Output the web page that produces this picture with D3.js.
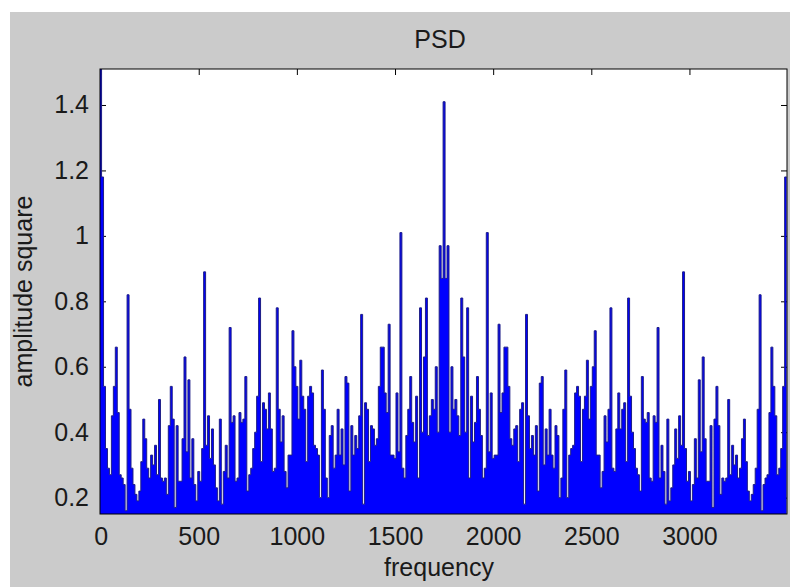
<!DOCTYPE html>
<html>
<head>
<meta charset="utf-8">
<script src="https://cdn.jsdelivr.net/npm/d3@7"></script>
<style>
  html, body { margin: 0; padding: 0; background: #fff; }
  svg { display: block; }
  text { font-family: "Liberation Sans", Arial, sans-serif; fill: #1a1a1a; }
</style>
</head>
<body>
<div id="chart"></div>
<script>
// PSD values, one bar per 10 Hz bin
var bin_Step = 10;

// bins 0 .. 1750 Hz
var psd_Left = [
  1.51, 1.18, 0.54, 0.35, 0.29, 0.27, 0.45, 0.54, 0.66, 0.46,
  0.27, 0.26, 0.24, 0.16, 0.82, 0.47, 0.29, 0.24, 0.21, 0.19,
  0.22, 0.31, 0.44, 0.38, 0.29, 0.26, 0.33, 0.30, 0.36, 0.27,
  0.50, 0.26, 0.25, 0.26, 0.21, 0.42, 0.54, 0.44, 0.17, 0.42,
  0.25, 0.25, 0.38, 0.63, 0.34, 0.56, 0.26, 0.38, 0.24, 0.19,
  0.28, 0.25, 0.35, 0.89, 0.36, 0.45, 0.32, 0.41, 0.30, 0.23,
  0.19, 0.44, 0.18, 0.28, 0.36, 0.26, 0.72, 0.43, 0.45, 0.25,
  0.26, 0.46, 0.43, 0.44, 0.57, 0.22, 0.27, 0.29, 0.35, 0.40,
  0.51, 0.81, 0.31, 0.49, 0.47, 0.41, 0.52, 0.41, 0.28, 0.29,
  0.78, 0.47, 0.37, 0.45, 0.28, 0.23, 0.33, 0.33, 0.71, 0.60,
  0.54, 0.44, 0.62, 0.51, 0.47, 0.31, 0.51, 0.54, 0.52, 0.36,
  0.35, 0.33, 0.20, 0.59, 0.47, 0.26, 0.20, 0.39, 0.42, 0.29,
  0.33, 0.47, 0.33, 0.41, 0.30, 0.57, 0.55, 0.22, 0.42, 0.33,
  0.39, 0.35, 0.45, 0.76, 0.18, 0.49, 0.47, 0.31, 0.42, 0.41,
  0.36, 0.38, 0.54, 0.66, 0.66, 0.52, 0.46, 0.73, 0.33, 0.33,
  0.32, 0.52, 0.34, 1.01, 0.29, 0.26, 0.39, 0.47, 0.57, 0.43,
  0.37, 0.51, 0.26, 0.78, 0.40, 0.63, 0.81, 0.39, 0.45, 0.50,
  0.47, 0.60, 0.40, 0.97, 0.87, 1.41
];

// bins 1760 .. 3490 Hz
var psd_Right = [
  0.87, 0.97, 0.40, 0.60, 0.47, 0.50, 0.45, 0.39, 0.81, 0.63,
  0.40, 0.78, 0.26, 0.51, 0.37, 0.43, 0.57, 0.47, 0.39, 0.26,
  0.29, 1.01, 0.34, 0.52, 0.32, 0.33, 0.33, 0.73, 0.46, 0.52,
  0.66, 0.66, 0.54, 0.38, 0.36, 0.41, 0.42, 0.31, 0.47, 0.49,
  0.18, 0.76, 0.45, 0.35, 0.39, 0.33, 0.42, 0.22, 0.55, 0.57,
  0.30, 0.41, 0.33, 0.47, 0.33, 0.29, 0.42, 0.39, 0.20, 0.26,
  0.47, 0.59, 0.20, 0.33, 0.35, 0.36, 0.52, 0.54, 0.51, 0.31,
  0.47, 0.51, 0.62, 0.44, 0.54, 0.60, 0.71, 0.33, 0.33, 0.23,
  0.28, 0.45, 0.37, 0.47, 0.78, 0.29, 0.28, 0.41, 0.52, 0.41,
  0.47, 0.49, 0.31, 0.81, 0.51, 0.40, 0.35, 0.29, 0.27, 0.22,
  0.57, 0.44, 0.43, 0.46, 0.26, 0.25, 0.45, 0.43, 0.72, 0.26,
  0.36, 0.28, 0.18, 0.44, 0.19, 0.23, 0.30, 0.41, 0.32, 0.45,
  0.36, 0.89, 0.35, 0.25, 0.28, 0.19, 0.24, 0.38, 0.26, 0.56,
  0.34, 0.63, 0.38, 0.25, 0.25, 0.42, 0.17, 0.44, 0.54, 0.42,
  0.21, 0.26, 0.25, 0.26, 0.50, 0.27, 0.36, 0.30, 0.33, 0.26,
  0.29, 0.38, 0.44, 0.31, 0.22, 0.19, 0.21, 0.24, 0.29, 0.47,
  0.82, 0.16, 0.24, 0.26, 0.27, 0.46, 0.66, 0.54, 0.45, 0.27,
  0.29, 0.35, 0.54, 1.18
];

var x_Ticks = [0, 500, 1000, 1500, 2000, 2500, 3000];
var y_Ticks = [0.2, 0.4, 0.6, 0.8, 1, 1.2, 1.4];

var title_Text = "PSD";
var x_Label = "frequency";
var y_Label = "amplitude square";

// SVG and plot box
var svg_Width = 790;
var svg_Height = 587;
var plot_Box = { left: 100, right: 787, top: 69, bottom: 514 };

var svg = d3.select("#chart")
  .append("svg")
  .attr("width", svg_Width)
  .attr("height", svg_Height);

// grey figure background
svg.append("rect")
  .attr("x", 10)
  .attr("y", 12)
  .attr("width", svg_Width - 10)
  .attr("height", svg_Height - 12)
  .attr("fill", "#cbcbcb");

// white axes background
svg.append("rect")
  .attr("x", plot_Box.left)
  .attr("y", plot_Box.top)
  .attr("width", plot_Box.right - plot_Box.left)
  .attr("height", plot_Box.bottom - plot_Box.top)
  .attr("fill", "#ffffff");

var psd_Data = psd_Left.concat(psd_Right).map(function(v, i) {
  return { freq: i * bin_Step, value: v };
});

var x_Scale = d3.scaleLinear()
  .domain([-3, 3497])
  .range([plot_Box.left, plot_Box.right]);

var y_Scale = d3.scaleLinear()
  .domain([0.15, 1.51])
  .range([plot_Box.bottom, plot_Box.top]);

// inward ticks on all four sides (drawn under the bars)
function styleAxis(g) {
  g.select(".domain").remove();
  g.selectAll(".tick line").attr("stroke", "#000");
  g.selectAll("text")
    .attr("font-size", 25)
    .attr("font-family", "'Liberation Sans', Arial, sans-serif")
    .attr("fill", "#1a1a1a");
}

svg.append("g")
  .attr("transform", `translate(0, ${plot_Box.bottom})`)
  .call(d3.axisBottom(x_Scale).tickValues(x_Ticks).tickSizeInner(-6).tickSizeOuter(0).tickPadding(13).tickFormat(d3.format("d")))
  .call(styleAxis);

svg.append("g")
  .attr("transform", `translate(0, ${plot_Box.top})`)
  .call(d3.axisTop(x_Scale).tickValues(x_Ticks).tickSizeInner(-6).tickSizeOuter(0).tickFormat(""))
  .call(styleAxis);

svg.append("g")
  .attr("transform", `translate(${plot_Box.left}, 0)`)
  .call(d3.axisLeft(y_Scale).tickValues(y_Ticks).tickSizeInner(-6).tickSizeOuter(0).tickPadding(11).tickFormat(function(d) { return String(d); }))
  .call(styleAxis);

svg.append("g")
  .attr("transform", `translate(${plot_Box.right}, 0)`)
  .call(d3.axisRight(y_Scale).tickValues(y_Ticks).tickSizeInner(-6).tickSizeOuter(0).tickFormat(""))
  .call(styleAxis);

// clip bars to the axes box
svg.append("clipPath")
  .attr("id", "plot-clip")
  .append("rect")
  .attr("x", plot_Box.left)
  .attr("y", plot_Box.top)
  .attr("width", plot_Box.right - plot_Box.left)
  .attr("height", plot_Box.bottom - plot_Box.top);

// each bar spans its whole bin: left and right corner points
var step_Points = [];
psd_Data.forEach(function(d) {
  step_Points.push({ f: d.freq - bin_Step / 2, v: d.value });
  step_Points.push({ f: d.freq + bin_Step / 2, v: d.value });
});

var bars_Group = svg.append("g").attr("clip-path", "url(#plot-clip)");

bars_Group.append("path")
  .datum(step_Points)
  .attr("fill", "#0000ff")
  .attr("d", d3.area()
    .x(d => x_Scale(d.f))
    .y0(plot_Box.bottom)
    .y1(d => y_Scale(d.v)));

bars_Group.append("path")
  .datum(step_Points)
  .attr("fill", "none")
  .attr("stroke", "#1e1e86")
  .attr("stroke-width", 1)
  .attr("d", d3.line()
    .x(d => x_Scale(d.f))
    .y(d => y_Scale(d.v)));

// axes box
svg.append("rect")
  .attr("x", plot_Box.left)
  .attr("y", plot_Box.top)
  .attr("width", plot_Box.right - plot_Box.left)
  .attr("height", plot_Box.bottom - plot_Box.top)
  .attr("fill", "none")
  .attr("stroke", "#000")
  .attr("stroke-width", 1);

// title and labels
svg.append("text")
  .attr("x", 440)
  .attr("y", 48)
  .attr("text-anchor", "middle")
  .attr("font-size", 25)
  .text(title_Text);

svg.append("text")
  .attr("x", 439)
  .attr("y", 576)
  .attr("text-anchor", "middle")
  .attr("font-size", 25)
  .text(x_Label);

svg.append("text")
  .attr("transform", `translate(32, ${(plot_Box.top + plot_Box.bottom) / 2}) rotate(-90)`)
  .attr("text-anchor", "middle")
  .attr("font-size", 25)
  .text(y_Label);
</script>
</body>
</html>
